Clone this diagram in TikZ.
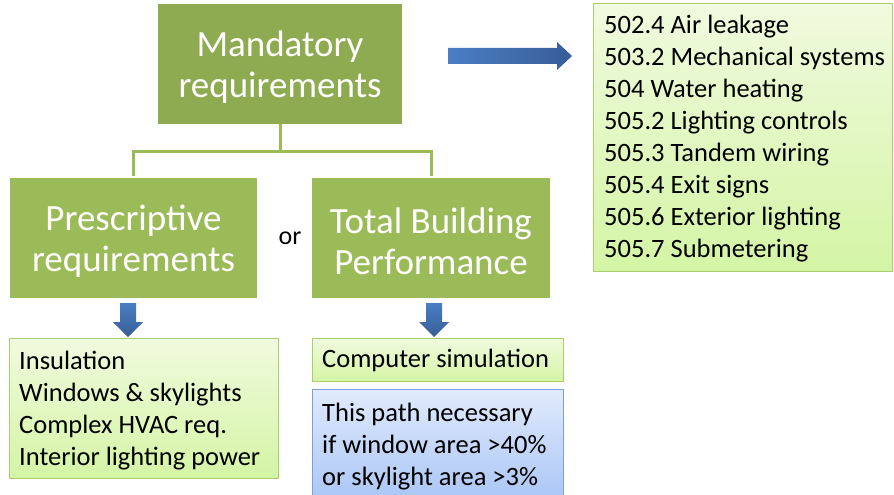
\documentclass[tikz,border=0pt]{standalone}
\usepackage{fontspec}
\setmainfont{Carlito}
\definecolor{mandgreen}{RGB}{143,171,81}
\definecolor{boxgreen}{RGB}{155,187,89}
\definecolor{lightgreenT}{RGB}{240,250,222}
\definecolor{lightgreenB}{RGB}{212,245,165}
\definecolor{greenedge}{RGB}{170,205,110}
\definecolor{blueL}{RGB}{74,126,196}
\definecolor{blueD}{RGB}{56,93,150}
\definecolor{lightblueT}{RGB}{224,234,252}
\definecolor{lightblueB}{RGB}{166,195,245}
\definecolor{blueedge}{RGB}{125,160,215}
\tikzset{
  bigbox/.style={fill=#1, draw=none, text=white, align=center, inner sep=0pt,
    font=\fontsize{37}{41}\selectfont},
  bigtext/.style={text=white, align=center, inner sep=0pt,
    font=\fontsize{37}{41}\selectfont},
  listbox/.style={draw=greenedge, line width=1.2pt, top color=lightgreenT, bottom color=lightgreenB, inner sep=0pt},
  bluebox/.style={draw=blueedge, line width=1.2pt, top color=lightblueT, bottom color=lightblueB, inner sep=0pt},
  listtext/.style={anchor=north west, align=left, inner sep=0pt, text=black,
    font=\fontsize{26.5}{32}\selectfont},
  conn/.style={draw=boxgreen, line width=3pt},
}
\begin{document}
\begin{tikzpicture}[x=1pt,y=-1pt]
\useasboundingbox (0,0) rectangle (894,495);
\begin{scope}
\clip (0,0) rectangle (894,495);
% main boxes
\node[fill=mandgreen, minimum width=244pt, minimum height=120pt, inner sep=0pt] (mand) at (280,64) {};
\node[bigtext] (mandt) at (280,67) {Mandatory\\requirements};
\node[fill=boxgreen, minimum width=247pt, minimum height=120pt, inner sep=0pt] (pres) at (133.5,238) {};
\node[bigtext] (prest) at (133.5,241) {Prescriptive\\requirements};
\node[fill=boxgreen, minimum width=238pt, minimum height=120pt, inner sep=0pt] (tbp) at (431,238) {};
\node[bigtext] (tbpt) at (431,241) {Total Building\\Performance};
\node[font=\fontsize{26}{30}\selectfont] (or) at (290,238) {or};
% connector
\coordinate (split) at (280,151);
\coordinate (pl) at (133,176);
\coordinate (pr) at (431,176);
\draw[conn] (mand.south) -- (split);
\draw[conn] (pl) |- (split) -| (pr);
% right arrow
\shade[left color=blueL, right color=blueD]
  (448,48) -- (557,48) -- (557,42) -- (572,56) -- (557,70) -- (557,64) -- (448,64) -- cycle;
% right list box
\node[listbox, minimum width=299pt, minimum height=268pt, anchor=north west] (list) at (593,3) {};
\node[listtext] (listt) at (604,15) {502.4 Air leakage\\503.2 Mechanical systems\\504 Water heating\\505.2 Lighting controls\\505.3 Tandem wiring\\505.4 Exit signs\\505.6 Exterior lighting\\505.7 Submetering};
% down arrows
\shade[top color=blueL, bottom color=blueD]
  (120,303) -- (136,303) -- (136,322) -- (143,322) -- (128,337) -- (113,322) -- (120,322) -- cycle;
\shade[top color=blueL, bottom color=blueD]
  (426,303) -- (442,303) -- (442,322) -- (449,322) -- (434,337) -- (419,322) -- (426,322) -- cycle;
% lower boxes
\node[listbox, minimum width=269pt, minimum height=140pt, anchor=north west] (presl) at (9,338) {};
\node[listtext] (preslt) at (19,351) {Insulation\\Windows \& skylights\\Complex HVAC req.\\Interior lighting power};
\node[listbox, minimum width=251pt, minimum height=43pt, anchor=north west] (sim) at (312,338) {};
\node[listtext, anchor=west] (simt) at (322,360) {Computer simulation};
\node[bluebox, minimum width=251pt, minimum height=120pt, anchor=north west] (note) at (312,389) {};
\node[listtext] (notet) at (322,403) {This path necessary\\if window area >40\%\\or skylight area >3\%};
\end{scope}
\end{tikzpicture}
\end{document}
